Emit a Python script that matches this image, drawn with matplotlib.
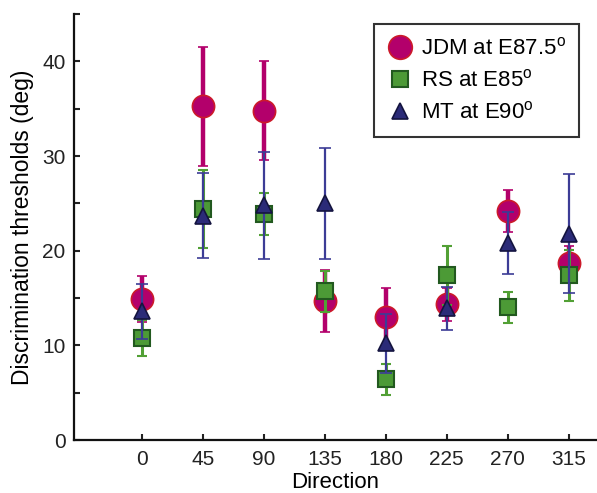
import numpy as np
import matplotlib
matplotlib.use("Agg")
import matplotlib.pyplot as plt
from matplotlib.lines import Line2D

plt.rcParams["font.family"] = ["Liberation Sans", "DejaVu Sans"]
plt.rcParams["mathtext.fontset"] = "custom"
plt.rcParams["mathtext.rm"] = "Liberation Sans"

# directions (deg)
directions = [0, 45, 90, 135, 180, 225, 270, 315]

# JDM at E87.5
jdm_mean = [14.9, 35.25, 34.8, 14.7, 13.0, 14.35, 24.2, 18.7]
jdm_err = [2.4, 6.25, 5.2, 3.3, 3.1, 1.75, 2.2, 1.8]

# RS at E85
rs_mean = [10.8, 24.4, 23.9, 15.7, 6.4, 17.4, 14.0, 17.4]
rs_err = [1.9, 4.1, 2.2, 2.2, 1.6, 3.1, 1.6, 2.7]

# MT at E90
mt_mean = [13.6, 23.7, 24.8, 25.0, 10.2, 13.9, 20.8, 21.8]
mt_err = [2.9, 4.5, 5.65, 5.9, 3.15, 2.3, 3.25, 6.25]

jdm_face = "#b3006b"
jdm_edge = "#cc1a2a"
rs_face = "#4c9a36"
rs_edge = "#22591f"
rs_bar = "#52a035"
mt_face = "#2b2b78"
mt_edge = "#14143f"
mt_bar = "#3c3c96"

fig = plt.figure(figsize=(5.97, 4.93), dpi=100)
ax = fig.add_axes([0.124, 0.1075, 0.876, 0.864])

ax.errorbar(directions, jdm_mean, yerr=jdm_err, fmt="o", ms=16,
            mfc=jdm_face, mec=jdm_edge, mew=1.2, ecolor=jdm_face,
            elinewidth=3.2, capsize=3.5, capthick=3.2, zorder=2)
ax.errorbar(directions, rs_mean, yerr=rs_err, fmt="s", ms=11.5,
            mfc=rs_face, mec=rs_edge, mew=1.5, ecolor=rs_bar,
            elinewidth=2.2, capsize=3.5, capthick=2.5, zorder=3)
ax.errorbar(directions, mt_mean, yerr=mt_err, fmt="^", ms=12,
            mfc=mt_face, mec=mt_edge, mew=1.2, ecolor=mt_bar,
            elinewidth=1.6, capsize=4.5, capthick=1.6, zorder=4)

ax.set_xlim(-50, 336)
ax.set_ylim(0, 45)
ax.set_xticks(directions)
ax.set_yticks([0, 10, 20, 30, 40])
ax.set_yticks([5, 15, 25, 35, 45], minor=True)
ax.tick_params(axis="both", which="both", direction="in", length=4,
               width=1.5, labelsize=15, colors="#222222")
ax.tick_params(axis="x", pad=7)
ax.tick_params(axis="y", pad=6)
for s in ("top", "right"):
    ax.spines[s].set_visible(False)
for s in ("left", "bottom"):
    ax.spines[s].set_linewidth(1.6)
    ax.spines[s].set_color("#111111")

ax.set_xlabel("Direction", fontsize=16, labelpad=2)
ax.set_ylabel("Discrimination thresholds (deg)", fontsize=16.5, labelpad=6)

handles = [
    Line2D([], [], ls="none", marker="o", ms=17, mfc=jdm_face, mec=jdm_edge, mew=1.2),
    Line2D([], [], ls="none", marker="s", ms=11.5, mfc=rs_face, mec=rs_edge, mew=1.5),
    Line2D([], [], ls="none", marker="^", ms=11.5, mfc=mt_face, mec=mt_edge, mew=1.2),
]
labels = [r"JDM at E87.5$^\mathrm{o}$", r"RS at E85$^\mathrm{o}$", r"MT at E90$^\mathrm{o}$"]
leg = fig.legend(handles, labels, loc="upper right", bbox_to_anchor=(0.970, 0.951),
                 fontsize=16, frameon=True, fancybox=False, borderpad=0.6,
                 handlelength=1.1, handletextpad=0.4, labelspacing=0.45,
                 borderaxespad=0)
leg.get_frame().set_edgecolor("black")
leg.get_frame().set_linewidth(1.5)

fig.savefig("out.png", dpi=100)
